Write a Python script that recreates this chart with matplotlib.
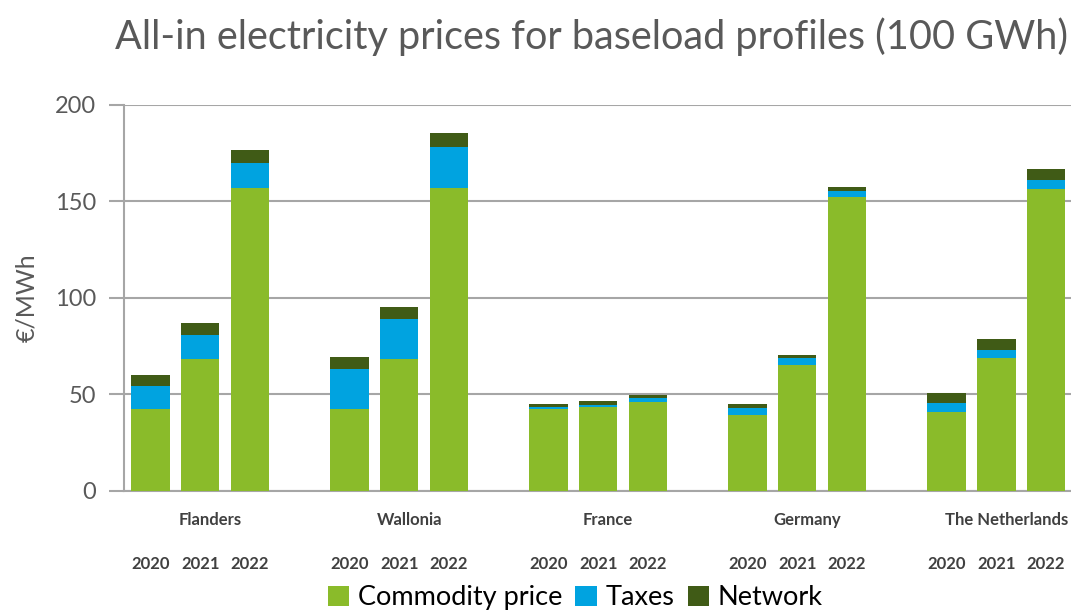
import matplotlib.pyplot as plt
import numpy as np

plt.rcParams['font.family'] = ['Lato', 'DejaVu Sans']

regions = ['Flanders', 'Wallonia', 'France', 'Germany', 'The Netherlands']
years = ['2020', '2021', '2022']

# values per region, one per year (EUR/MWh)
commodity = [
    [42.2, 68.2, 156.8],
    [42.2, 68.2, 156.8],
    [42.2, 43.2, 46.1],
    [39.3, 65.2, 152.2],
    [41.0, 68.7, 156.5],
]
taxes = [
    [12.1, 12.6, 13.0],
    [20.7, 21.0, 21.3],
    [1.3, 1.0, 2.1],
    [3.6, 3.8, 3.4],
    [4.3, 4.3, 4.6],
]
network = [
    [5.7, 6.0, 6.9],
    [6.3, 6.2, 7.6],
    [1.4, 2.4, 1.5],
    [2.0, 1.4, 2.0],
    [5.2, 5.5, 5.8],
]

c_com = '#8abb2a'
c_tax = '#00a3e0'
c_net = '#405b16'
grid_c = '#a6a6a6'
text_c = '#595959'

fig = plt.figure(figsize=(10.71, 6.10), dpi=100)
ax = fig.add_axes([0.1158, 0.1956, 0.8842, 0.6323])

offsets = np.array([-1, 0, 1])
width = 0.77
xs_all = []
for i, r in enumerate(regions):
    x = 4 * i + offsets
    xs_all.extend(x)
    com = np.array(commodity[i])
    tax = np.array(taxes[i])
    net = np.array(network[i])
    ax.bar(x, com, width, color=c_com, label='Commodity price' if i == 0 else None, zorder=3)
    ax.bar(x, tax, width, bottom=com, color=c_tax, label='Taxes' if i == 0 else None, zorder=3)
    ax.bar(x, net, width, bottom=com + tax, color=c_net, label='Network' if i == 0 else None, zorder=3)
    ax.text(4 * i + 0.2, -15, r, ha='center', va='center', fontsize=12, color='#404040',
            fontweight='bold')

ax.set_xlim(-1.53, 17.5)
ax.set_ylim(0, 200)
ax.set_yticks([0, 50, 100, 150, 200])
ax.tick_params(axis='y', labelsize=17, labelcolor=text_c, color=grid_c, length=11, width=1.5, pad=9)
ax.set_xticks(xs_all)
ax.set_xticklabels(years * len(regions), fontsize=12, color='#404040', fontweight='bold')
ax.tick_params(axis='x', length=0, pad=47)
ax.grid(axis='y', color=grid_c, linewidth=1.5, zorder=0)
for s in ['top', 'right']:
    ax.spines[s].set_visible(False)
ax.spines['left'].set_color(grid_c)
ax.spines['left'].set_linewidth(1.5)
ax.spines['bottom'].set_color(grid_c)
ax.spines['bottom'].set_linewidth(1.5)

ax.set_ylabel('€/MWh', fontsize=18, color=text_c, labelpad=12)
fig.text(0.107, 0.94, 'All-in electricity prices for baseload profiles (100 GWh)',
         fontsize=28.5, color=text_c, ha='left', va='center')

fig.legend(loc='center', bbox_to_anchor=(0.537, 0.02), ncol=3, frameon=False,
           fontsize=19.5, handlelength=0.8, handleheight=0.8, handletextpad=0.3,
           columnspacing=0.5, borderpad=0)

fig.savefig('out.png', dpi=100)
